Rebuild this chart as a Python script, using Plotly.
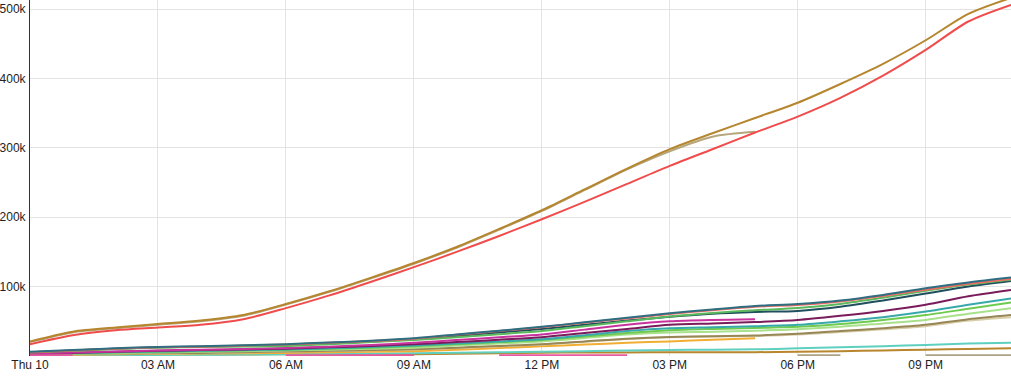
import plotly.graph_objects as go

DAY = "2016-03-10"
hours = list(range(24))
tick_hours = [0, 3, 6, 9, 12, 15, 18, 21]
tick_labels = ["Thu 10", "03 AM", "06 AM", "09 AM", "12 PM", "03 PM", "06 PM", "09 PM"]
y_ticks = [100000, 200000, 300000, 400000, 500000]
y_tick_labels = ["100k", "200k", "300k", "400k", "500k"]

# values in thousands, hourly from 00:00
tan_big = [20, 34, 40, 45, 50, 58, 74, 92, 112, 133, 156, 182, 209, 239, 269, 295, 316, 323]
red_big = [17, 30, 37, 41, 45, 53, 69, 87, 107, 128, 150, 173, 197, 222, 248, 274, 298, 322, 345, 372, 404, 441, 482, 506]
gold_big = [21, 35, 41, 46, 51, 59, 75, 93, 113, 134, 157, 183, 210, 240, 270, 298, 321, 343, 365, 392, 421, 455, 493, 516]

teal_top = [6, 8.5, 11, 13, 14, 15.5, 17, 19.5, 22, 25.5, 31, 36.5, 42, 48.5, 55, 61.5, 67, 72, 75, 80, 88, 97.5, 106, 113]
salmon = [5.5, 8, 10.5, 12.5, 13.5, 15, 16.5, 19, 21.5, 25, 30.5, 36, 41.5, 48, 54, 60.5, 66, 71, 73.5, 78.5, 86.5, 95.5, 104, 111]
green = [5, 7.5, 10, 12, 12.8, 13.6, 14.4, 17, 20, 23, 27, 31.5, 36, 43, 50, 57, 62, 66, 69, 75, 84, 94, 103, 110]
dark_teal = [5.5, 8, 10.5, 12.5, 13.5, 14.5, 15.5, 18, 21, 24, 29, 34, 39, 45, 51, 56.5, 61, 63.5, 65, 71, 80, 90, 100, 108]
purple = [3, 4.5, 6, 7.5, 8.5, 9.5, 10.5, 12.5, 14.5, 17, 20, 23.5, 27, 33, 39, 45, 47, 49, 52, 58, 65, 74, 86, 95]
magenta = [3.5, 5, 6.5, 8, 9, 10, 11.5, 13.5, 16, 19, 23, 27, 31, 38, 45, 50, 52, 53]
teal2 = [2.5, 4, 5.5, 6.5, 7.5, 8.5, 9.5, 11, 13, 15, 18, 21, 24, 30, 36, 40, 41.5, 43, 45, 50, 56, 64, 74, 83]
green2 = [2.5, 3.5, 5, 6, 7, 8, 9, 10.5, 12, 14, 17, 20, 23, 28, 33, 37, 39, 40.5, 42, 46, 52, 59, 68, 77]
light_green = [2, 3, 4, 5, 6, 7, 8, 9, 10.5, 12, 15, 18, 21, 26, 31, 34, 35, 36.5, 38.5, 42, 47, 52, 61, 69]
olive = [1.5, 2.5, 3.5, 4, 4.5, 5.5, 6.5, 7.5, 8.5, 9.6, 12, 14.5, 17, 21, 25, 27.5, 28.5, 29.5, 32, 36, 40, 45, 53, 59]
beige = [1.2, 2.2, 3.2, 3.7, 4.2, 5.2, 6.2, 7.2, 8.2, 9.2, 11.5, 14, 16.5, 20.5, 24.5, 27, 28, 29, 31, 34.5, 38.5, 43, 51, 56]
orange = [1, 1.5, 2.5, 3, 3.5, 4, 4.5, 5.5, 6, 7, 9, 11.5, 14, 16.5, 19, 21, 23.5, 25.5]
turquoise = [0.8, 1, 1.3, 1.5, 1.8, 2.1, 2.5, 3, 3.4, 3.9, 4.6, 5.3, 6, 7, 8, 8.6, 9.1, 9.6, 11, 12.5, 14, 16, 18, 19]
brown = [1.5, 1.7, 1.9, 2.1, 2.2, 2.3, 2.4, 2.5, 2.6, 2.7, 3.2, 3.9, 4.8, 5, 5.2, 5.3, 5.4, 5.5, 6, 7, 8, 9, 10.2, 11]

pink_hours = [0, 1, None, 6, 7, 8, 9, None, 11, 12, 13, 14]
pink_vals = [0.9, 0.9, None, 0.9, 0.9, 0.9, 0.9, None, 0.9, 0.9, 0.9, 0.9]
khaki_hours = [18, 19, None, 21, 22, 23]
khaki_vals = [0.9, 0.9, None, 0.9, 0.9, 0.9]

series = [
    (brown, "#b8862c"),
    (turquoise, "#5fd0c0"),
    (orange, "#f2ad35"),
    (beige, "#d8cfaa"),
    (olive, "#978656"),
    (light_green, "#a8e08c"),
    (green2, "#6fcb4f"),
    (teal2, "#38a9aa"),
    (purple, "#7a1b5b"),
    (magenta, "#c7329c"),
    (dark_teal, "#1f4e5d"),
    (green, "#5cb85c"),
    (salmon, "#ee6a63"),
    (teal_top, "#2e6e80"),
    (tan_big, "#b5a67c"),
    (red_big, "#f04c4c"),
    (gold_big, "#b5862e"),
]


def ts(h):
    return None if h is None else f"{DAY} {h:02d}:00"


def kv(v):
    return None if v is None else v * 1000


fig = go.Figure()
for vals, color in series:
    fig.add_trace(go.Scatter(
        x=[ts(h) for h in hours[:len(vals)]],
        y=[kv(v) for v in vals],
        mode="lines",
        line=dict(color=color, width=2, shape="spline", smoothing=0.8),
        hoverinfo="skip",
    ))

for hs, vs, color in [(pink_hours, pink_vals, "#e8579f"), (khaki_hours, khaki_vals, "#ada283")]:
    fig.add_trace(go.Scatter(
        x=[ts(h) for h in hs],
        y=[kv(v) for v in vs],
        mode="lines",
        connectgaps=False,
        line=dict(color=color, width=2.5),
        hoverinfo="skip",
    ))

fig.update_layout(
    width=1011, height=381,
    margin=dict(l=27, r=0, t=0, b=25),
    paper_bgcolor="white", plot_bgcolor="white",
    showlegend=False,
    font=dict(family="Liberation Sans, Arial, sans-serif", size=12, color="#222"),
)
fig.update_xaxes(
    type="date",
    range=[ts(0), ts(23)],
    tickvals=[ts(h) for h in tick_hours],
    ticktext=tick_labels,
    showgrid=True, gridcolor="#e3e3e3", gridwidth=1,
    showline=False, zeroline=False, ticks="",
)
fig.update_yaxes(
    range=[0, 513000],
    tickvals=y_ticks,
    ticktext=y_tick_labels,
    showgrid=True, gridcolor="#e3e3e3", gridwidth=1,
    showline=True, linecolor="#333", linewidth=1,
    zeroline=False, ticks="", ticklabelstandoff=1,
)

fig.write_html("out.html")
